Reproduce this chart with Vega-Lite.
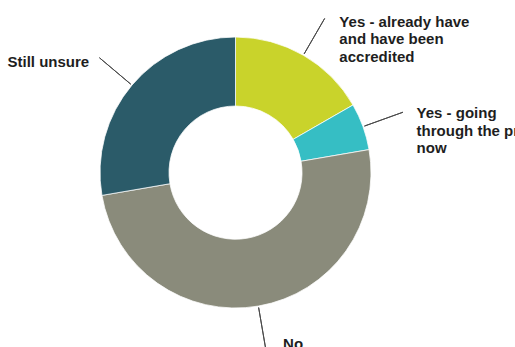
{
  "$schema": "https://vega.github.io/schema/vega-lite/v6.json",
  "width": 471,
  "height": 345,
  "autosize": {"type": "none"},
  "padding": {"left": 0, "top": 0, "right": 44, "bottom": 2},
  "background": "white",
  "config": {"view": {"stroke": null}},
  "data": {
    "values": [
      {"answer": "Yes - already have and have been accredited", "label": ["Yes - already have", "and have been", "accredited"], "pct": 16.7, "rank": 1},
      {"answer": "Yes - going through the process now", "label": ["Yes - going", "through the process", "now"], "pct": 5.6, "rank": 2},
      {"answer": "No", "label": ["No"], "pct": 50.0, "rank": 3},
      {"answer": "Still unsure", "label": ["Still unsure"], "pct": 27.7, "rank": 4}
    ]
  },
  "encoding": {
    "theta": {"field": "pct", "type": "quantitative", "stack": true},
    "order": {"field": "rank", "type": "ordinal"}
  },
  "layer": [
    {
      "mark": {"type": "arc", "innerRadius": 66.5, "outerRadius": 135.5, "stroke": "#ffffff", "strokeWidth": 0.75},
      "encoding": {
        "color": {
          "field": "answer",
          "type": "nominal",
          "scale": {
            "domain": ["Yes - already have and have been accredited", "Yes - going through the process now", "No", "Still unsure"],
            "range": ["#c9d32b", "#36bec4", "#8a8b7b", "#2b5b69"]
          },
          "legend": null
        }
      }
    },
    {
      "mark": {"type": "arc", "innerRadius": 137, "outerRadius": 178, "padAngle": 3.14159, "fillOpacity": 0, "stroke": "#4a4a4a", "strokeWidth": 1}
    },
    {
      "mark": {"type": "text", "radius": 135.5, "dx": 36, "dy": -28.5, "align": "left", "baseline": "alphabetic", "font": "Liberation Sans", "fontWeight": "bold", "fontSize": 15, "lineHeight": 17.5, "color": "#1e1e1e"},
      "encoding": {"text": {"condition": {"test": "datum.rank === 1", "field": "label"}, "value": ""}}
    },
    {
      "mark": {"type": "text", "radius": 135.5, "dx": 53.6, "dy": -8.5, "align": "left", "baseline": "alphabetic", "font": "Liberation Sans", "fontWeight": "bold", "fontSize": 15, "lineHeight": 17.5, "color": "#1e1e1e"},
      "encoding": {"text": {"condition": {"test": "datum.rank === 2", "field": "label"}, "value": ""}}
    },
    {
      "mark": {"type": "text", "radius": 135.5, "dx": 24.7, "dy": 43, "align": "left", "baseline": "alphabetic", "font": "Liberation Sans", "fontWeight": "bold", "fontSize": 15, "lineHeight": 17.5, "color": "#1e1e1e"},
      "encoding": {"text": {"condition": {"test": "datum.rank === 3", "field": "label"}, "value": ""}}
    },
    {
      "mark": {"type": "text", "radius": 135.5, "dx": -42.7, "dy": -18.4, "align": "right", "baseline": "alphabetic", "font": "Liberation Sans", "fontWeight": "bold", "fontSize": 15, "lineHeight": 17.5, "color": "#1e1e1e"},
      "encoding": {"text": {"condition": {"test": "datum.rank === 4", "field": "label"}, "value": ""}}
    }
  ]
}
